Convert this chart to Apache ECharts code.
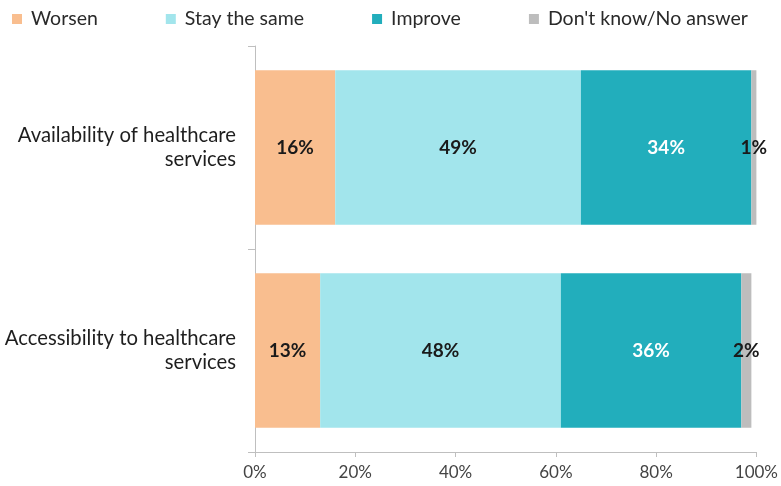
<!DOCTYPE html>
<html>
<head>
<meta charset="utf-8">
<script src="https://cdn.jsdelivr.net/npm/echarts@6/dist/echarts.min.js"></script>
<style>
  html, body { margin: 0; padding: 0; background: #ffffff; }
  #chart { width: 781px; height: 486px; }
</style>
</head>
<body>
<div id="chart"></div>
<script>
// Survey categories (top to bottom)
const categories = [
  'Availability of healthcare\nservices',
  'Accessibility to healthcare\nservices'
];

// Share of answers per category, in percent
const worsen = [16, 13];
const stayTheSame = [49, 48];
const improve = [34, 36];
const dontKnow = [1, 2];

const seriesNames = ['Worsen', 'Stay the same', 'Improve', "Don't know/No answer"];
const seriesColors = ['#F9BE8F', '#A2E5EC', '#22AEBC', '#BDBDBD'];
const labelColors = ['#1a1a1a', '#1a1a1a', '#ffffff', '#1a1a1a'];
const seriesValues = [worsen, stayTheSame, improve, dontKnow];

const xTicks = [0, 20, 40, 60, 80, 100];

const FONT = 'Lato';

const chart = echarts.init(document.getElementById('chart'), null, { renderer: 'canvas' });

const series = seriesNames.map((name, i) => ({
  name: name,
  type: 'bar',
  stack: 'total',
  barCategoryGap: '24%',
  data: seriesValues[i],
  itemStyle: { color: seriesColors[i] },
  label: {
    show: true,
    position: 'inside',
    formatter: p => p.value + '%',
    color: labelColors[i],
    fontFamily: FONT,
    fontWeight: 'bold',
    fontSize: 19
  },
  emphasis: { disabled: true }
}));

chart.setOption({
  animation: false,
  textStyle: { fontFamily: FONT },
  legend: {
    top: 4,
    left: 7,
    itemWidth: 10,
    itemHeight: 10,
    itemGap: 68,
    icon: 'rect',
    textStyle: { fontFamily: FONT, fontSize: 19.5, color: '#2a2a2a', padding: [0, 0, 0, 4] },
    data: seriesNames
  },
  grid: { left: 255, right: 22, top: 46, bottom: 34, containLabel: false },
  xAxis: {
    type: 'value',
    min: 0,
    max: 100,
    interval: 20,
    axisLine: { show: true, lineStyle: { color: '#bfbfbf' } },
    axisTick: { show: true, length: 5, lineStyle: { color: '#bfbfbf' } },
    splitLine: { show: false },
    axisLabel: {
      formatter: v => (xTicks.indexOf(v) >= 0 ? v + '%' : ''),
      color: '#444444',
      fontFamily: FONT,
      fontSize: 17,
      margin: 12
    }
  },
  yAxis: {
    type: 'category',
    inverse: true,
    data: categories,
    axisLine: { show: true, lineStyle: { color: '#bfbfbf' } },
    axisTick: { show: true, length: 7, lineStyle: { color: '#bfbfbf' } },
    axisLabel: {
      color: '#1e1e1e',
      fontFamily: FONT,
      fontSize: 20.3,
      lineHeight: 24,
      align: 'right',
      margin: 19
    }
  },
  series: series
});
</script>
</body>
</html>
